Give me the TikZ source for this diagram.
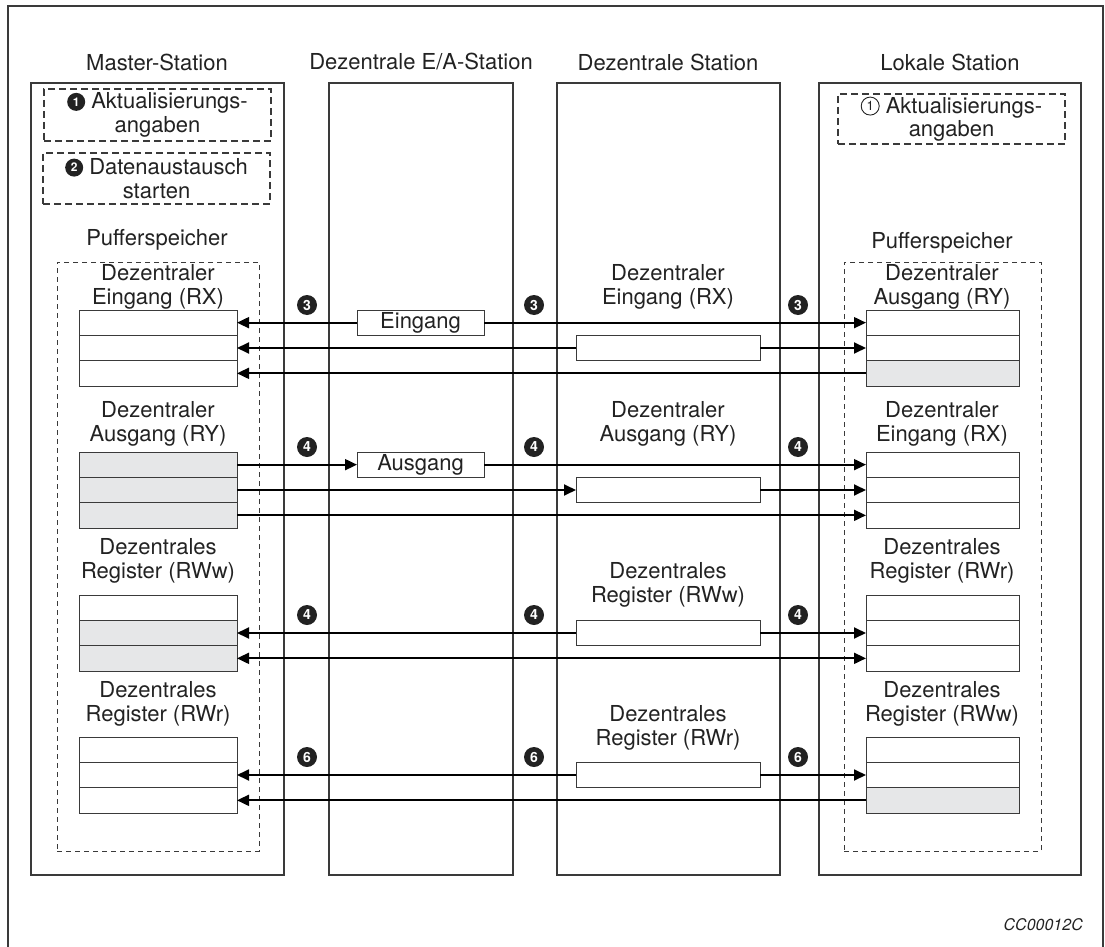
\documentclass[tikz,border=0pt]{standalone}
\usepackage{fontspec}
\setmainfont{TeX Gyre Heros}
\usetikzlibrary{arrows.meta}
\definecolor{ink}{HTML}{222222}
\definecolor{framegray}{HTML}{3A3A3A}
\definecolor{cellgrey}{HTML}{E6E7E8}

% filled and outlined step numbers used inside text
\tikzset{
  inlinenum/.style={shape=circle, anchor=center, inner sep=0pt, outer sep=0pt,
    minimum width=18pt, minimum height=18pt, solid, align=center}
}
\newcommand{\fillednum}[1]{\tikz[baseline=-7pt]\node[inlinenum, draw=none, fill=ink, text=white, font=\bfseries\fontsize{12}{12}\selectfont] at (0,0) {#1};}
\newcommand{\opennum}[1]{\tikz[baseline=-7pt]\node[inlinenum, draw=ink, line width=0.9pt, fill=none, text=ink, font=\fontsize{13}{13}\selectfont] at (0,0) {#1};}

\begin{document}
\begin{tikzpicture}[x=1pt,y=-1pt,
  txt/.style={font=\fontsize{22}{23.5}\selectfont, text=ink, align=center, inner sep=0pt},
  station/.style={draw=framegray, line width=1.4pt, inner sep=0pt, outer sep=0pt, anchor=north west},
  updbox/.style={draw=framegray, line width=1.3pt, dash pattern=on 7pt off 4pt, inner sep=0pt, outer sep=0pt, anchor=north west, txt},
  bufbox/.style={draw=framegray, line width=0.9pt, dash pattern=on 5pt off 4pt, inner sep=0pt, outer sep=0pt, anchor=north west},
  regm/.style={draw=framegray, line width=1pt, inner sep=0pt, outer sep=0pt, anchor=north west, minimum width=158pt, minimum height=25.33pt},
  regr/.style={regm, minimum width=153pt},
  midbox/.style={draw=framegray, line width=1pt, inner sep=0pt, outer sep=0pt, anchor=north west, minimum height=25.33pt, fill=white, txt},
  badge/.style={circle, fill=ink, text=white, inner sep=0pt, minimum size=20pt, font=\bfseries\fontsize{14}{14}\selectfont},
  arr/.style={draw=black, line width=1.8pt, -{Triangle[length=12pt,width=11pt]}},
  darr/.style={draw=black, line width=1.8pt, {Triangle[length=12pt,width=11pt]}-{Triangle[length=12pt,width=11pt]}}
]
\useasboundingbox (0,0) rectangle (1105,947);

% outer frame
\draw[framegray, line width=1.2pt] (8,950) -- (8,6) -- (1103,6) -- (1103,950);

% stations
\node[station, minimum width=253pt, minimum height=792pt] (master) at (31,83) {};
\node[station, minimum width=184pt, minimum height=792pt] (eastation) at (329,83) {};
\node[station, minimum width=223pt, minimum height=792pt] (dstation) at (557,83) {};
\node[station, minimum width=262pt, minimum height=792pt] (lstation) at (819,83) {};

\node[txt] (tmaster) at (157,62) {Master-Station};
\node[txt] (tea) at (421,62) {Dezentrale E/A-Station};
\node[txt] (tdst) at (668,62) {Dezentrale Station};
\node[txt] (tlok) at (950,62) {Lokale Station};

% update / start boxes
\node[updbox, minimum width=227pt, minimum height=52pt] (upd) at (44,89) {\fillednum{1} Aktualisierungs-\\angaben};
\node[updbox, minimum width=227pt, minimum height=51pt] (start) at (43,153) {\fillednum{2} Datenaustausch\\starten};
\node[updbox, minimum width=227pt, minimum height=50pt] (lupd) at (838,94) {\opennum{1} Aktualisierungs-\\angaben};

% buffer memories
\node[txt] (pmaster) at (157,240) {Pufferspeicher};
\node[txt] (plok) at (942,243) {Pufferspeicher};
\node[bufbox, minimum width=202pt, minimum height=589pt] (bufm) at (57,262) {};
\node[bufbox, minimum width=197pt, minimum height=589pt] (bufl) at (844,262) {};

% master registers
\node[txt] at (158,287) {Dezentraler\\Eingang (RX)};
\node[regm] (mRX1) at (79,310) {};
\node[regm] (mRX2) at (79,335.33) {};
\node[regm] (mRX3) at (79,360.67) {};

\node[txt] at (158,424) {Dezentraler\\Ausgang (RY)};
\node[regm, fill=cellgrey] (mRY1) at (79,452) {};
\node[regm, fill=cellgrey] (mRY2) at (79,477.33) {};
\node[regm, fill=cellgrey] (mRY3) at (79,502.67) {};

\node[txt] at (158,561) {Dezentrales\\Register (RWw)};
\node[regm] (mRWw1) at (79,595) {};
\node[regm, fill=cellgrey] (mRWw2) at (79,620.33) {};
\node[regm, fill=cellgrey] (mRWw3) at (79,645.67) {};

\node[txt] at (158,704) {Dezentrales\\Register (RWr)};
\node[regm] (mRWr1) at (79,737) {};
\node[regm] (mRWr2) at (79,762.33) {};
\node[regm] (mRWr3) at (79,787.67) {};

% local station registers
\node[txt] at (942,287) {Dezentraler\\Ausgang (RY)};
\node[regr] (lRY1) at (866,310) {};
\node[regr] (lRY2) at (866,335.33) {};
\node[regr, fill=cellgrey] (lRY3) at (866,360.67) {};

\node[txt] at (942,424) {Dezentraler\\Eingang (RX)};
\node[regr] (lRX1) at (866,452) {};
\node[regr] (lRX2) at (866,477.33) {};
\node[regr] (lRX3) at (866,502.67) {};

\node[txt] at (942,561) {Dezentrales\\Register (RWr)};
\node[regr] (lRWr1) at (866,595) {};
\node[regr] (lRWr2) at (866,620.33) {};
\node[regr] (lRWr3) at (866,645.67) {};

\node[txt] at (942,704) {Dezentrales\\Register (RWw)};
\node[regr] (lRWw1) at (866,737) {};
\node[regr] (lRWw2) at (866,762.33) {};
\node[regr, fill=cellgrey] (lRWw3) at (866,787.67) {};

% remote station labels
\node[txt] at (668,287) {Dezentraler\\Eingang (RX)};
\node[txt] at (668,424) {Dezentraler\\Ausgang (RY)};
\node[txt] at (668,585) {Dezentrales\\Register (RWw)};
\node[txt] at (668,728) {Dezentrales\\Register (RWr)};

% remote I/O and remote station cells
\node[midbox, minimum width=127pt] (ein) at (357,310) {Eingang};
\node[midbox, minimum width=184pt] (dRX) at (576,335.33) {};
\node[midbox, minimum width=127pt] (aus) at (357,452) {Ausgang};
\node[midbox, minimum width=184pt] (dRY) at (576,477.33) {};
\node[midbox, minimum width=184pt] (dRWw) at (576,620.33) {};
\node[midbox, minimum width=184pt] (dRWr) at (576,762.33) {};

% step numbers
\foreach \xx/\nm in {307/a,534/b,798/c}{
  \node[badge] (s3\nm) at (\xx,305) {3};
  \node[badge] (s4\nm) at (\xx,447) {4};
  \node[badge] (s5\nm) at (\xx,615) {4};
  \node[badge] (s6\nm) at (\xx,757) {6};
}

% data flow: remote inputs
\draw[arr] (ein.west) -- (mRX1.east);
\draw[arr] (ein.east) -- (lRY1.west);
\draw[arr] (dRX.west) -- (mRX2.east);
\draw[arr] (dRX.east) -- (lRY2.west);
\draw[arr] (lRY3.west) -- (mRX3.east);

% data flow: remote outputs
\draw[arr] (mRY1.east) -- (aus.west);
\draw[arr] (aus.east) -- (lRX1.west);
\draw[arr] (mRY2.east) -- (dRY.west);
\draw[arr] (dRY.east) -- (lRX2.west);
\draw[arr] (mRY3.east) -- (lRX3.west);

% data flow: write registers
\draw[arr] (dRWw.west) -- (mRWw2.east);
\draw[arr] (dRWw.east) -- (lRWr2.west);
\draw[darr] (mRWw3.east) -- (lRWr3.west);

% data flow: read registers
\draw[arr] (dRWr.west) -- (mRWr2.east);
\draw[arr] (dRWr.east) -- (lRWw2.west);
\draw[arr] (lRWw3.west) -- (mRWr3.east);

\node[font=\itshape\fontsize{16}{16}\selectfont, text=ink, anchor=east, inner sep=0pt] (code) at (1083,925) {CC00012C};
\end{tikzpicture}
\end{document}
